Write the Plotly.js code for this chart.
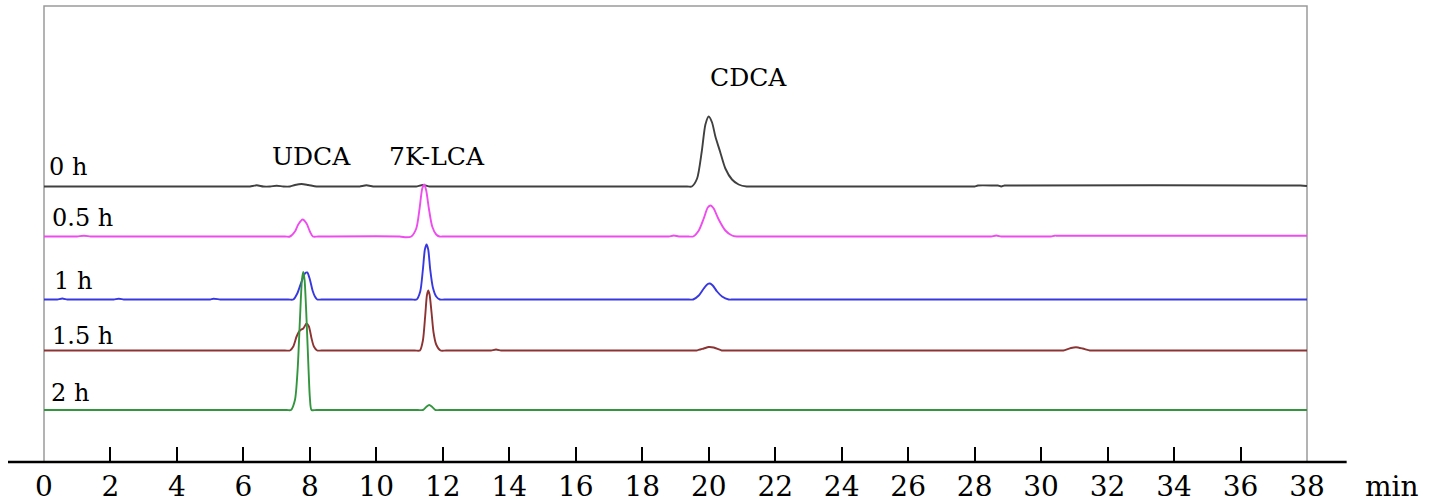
<!DOCTYPE html>
<html>
<head>
<meta charset="utf-8">
<script src="https://cdn.plot.ly/plotly-3.0.1.min.js"></script>
<style>html,body{margin:0;padding:0;background:#fff;}#chart{width:1429px;height:503px;}</style>
</head>
<body>
<div id="chart"></div>
<script>
// Sample labels
const sampleLabels = ["0 h", "0.5 h", "1 h", "1.5 h", "2 h"];
const peakNames = ["UDCA", "7K-LCA", "CDCA"];
const peakTimes = [8.05, 11.81, 21.19];
const xTicks = [0, 2, 4, 6, 8, 10, 12, 14, 16, 18, 20, 22, 24, 26, 28, 30, 32, 34, 36, 38];

// Retention time (min) and signal (relative units)
const t0h = [0, 0.2, 6.1, 6.2, 6.4, 6.6, 6.8, 7.0, 7.2, 7.4, 7.55, 7.75, 7.95, 8.2, 8.4, 9.4, 9.5, 9.7, 9.9, 10.0, 11.1, 11.2, 11.4, 11.6, 11.7, 19.35, 19.49, 19.65, 19.79, 19.9, 20.0, 20.1, 20.2, 20.34, 20.5, 20.7, 20.9, 21.14, 21.3, 27.9, 28.0, 28.1, 28.6, 28.7, 28.8, 28.9, 29.0, 37.8, 38];
const s0h = [0, 0, 0, 0, 1.2, 0, 0, 0.8, 0, 0, 1.5, 2.5, 1.5, 0, 0, 0, 0, 1.2, 0, 0, 0, 0, 1.5, 0, 0, 0, 0, 8, 35, 62, 70, 64, 50, 35, 18, 7, 2, 0, 0, 0, 0, 1, 1, 1, 0, 1, 1, 1, 0.5];

const t05h = [0, 0.2, 0.9, 1.0, 1.2, 1.4, 1.5, 7.25, 7.40, 7.55, 7.65, 7.78, 7.9, 8.0, 8.09, 8.25, 10.7, 10.9, 11.05, 11.2, 11.3, 11.38, 11.44, 11.5, 11.58, 11.68, 11.8, 11.9, 12.05, 18.7, 18.8, 18.95, 19.1, 19.3, 19.4, 19.53, 19.7, 19.85, 19.97, 20.06, 20.15, 20.3, 20.5, 20.7, 20.84, 21.0, 28.4, 28.5, 28.65, 28.8, 28.9, 30.2, 30.3, 30.4, 30.5, 37.8, 38];
const s05h = [0, 0, 0, 0, 0.8, 0, 0, 0, 0, 5, 12, 17, 13, 5, 0, 0, 0, -0.8, 0, 8, 28, 48, 52, 46, 28, 10, 2, 0, 0, 0, 0, 1, 0, 0, 0, 0, 6, 18, 29, 31, 28, 17, 6, 1, 0, 0, 0, 0, 1, 0, 0, 0, 0, 0.8, 0.8, 0.8, 0.8];

const t1h = [0, 0.2, 0.3, 0.4, 0.55, 0.7, 0.8, 2.0, 2.1, 2.25, 2.4, 2.5, 4.9, 5.0, 5.1, 5.3, 5.4, 7.35, 7.5, 7.62, 7.75, 7.85, 7.92, 8.0, 8.08, 8.15, 8.22, 8.35, 11.05, 11.21, 11.32, 11.4, 11.46, 11.51, 11.56, 11.62, 11.7, 11.8, 11.91, 12.05, 19.4, 19.53, 19.7, 19.85, 19.97, 20.04, 20.12, 20.25, 20.4, 20.6, 20.75, 37.8, 38];
const s1h = [0, 0, 0, 0, 1, 0, 0, 0, 0, 0.8, 0, 0, 0, 0, 0.8, 0, 0, 0, 0, 6, 18, 26, 27, 20, 9, 3, 0, 0, 0, 0, 8, 30, 50, 55, 50, 30, 12, 3, 0, 0, 0, 0, 4, 11, 15.5, 16, 14, 8, 3, 0, 0, 0, 0];

const t15h = [0, 0.2, 7.25, 7.4, 7.5, 7.6, 7.7, 7.8, 7.9, 7.97, 8.05, 8.12, 8.22, 8.35, 11.15, 11.31, 11.4, 11.47, 11.52, 11.56, 11.6, 11.66, 11.72, 11.8, 11.93, 12.1, 13.35, 13.45, 13.6, 13.75, 13.85, 19.5, 19.63, 19.85, 20.0, 20.15, 20.39, 20.5, 30.55, 30.67, 30.9, 31.05, 31.25, 31.47, 31.6, 37.8, 38];
const s15h = [0, 0, 0, 0, 4, 14, 20, 22, 27, 24, 12, 4, 0, 0, 0, 0, 10, 35, 55, 60, 56, 38, 18, 6, 0, 0, 0, 0, 1, 0, 0, 0, 0, 2, 3.5, 3, 0, 0, 0, 0, 2.5, 3.3, 2, 0, 0, 0, 0];

const t2h = [0, 0.2, 7.3, 7.43, 7.55, 7.63, 7.7, 7.76, 7.80, 7.84, 7.9, 7.96, 8.0, 8.05, 8.2, 11.25, 11.4, 11.5, 11.59, 11.68, 11.78, 11.9, 37.8, 38];
const s2h = [0, 0, 0, 0, 10, 40, 90, 130, 138, 130, 90, 40, 12, 0, 0, 0, 0, 3, 5, 3, 0, 0, 0, 0];

const times = [t0h, t05h, t1h, t15h, t2h];
const signals = [s0h, s05h, s1h, s15h, s2h];

// Presentation
const offsets = [275.5, 225.5, 162.5, 111.5, 52];
const colors = ["#404040", "#ee4cee", "#3838e0", "#8c3434", "#33963f"];
const labelPos = [[0.1, 294.6], [0.18, 243.7], [0.23, 181.5], [0.18, 126.5], [0.16, 69]];
const peakLabelY = [306, 306, 384.5];

const traces = times.map((t, i) => ({
  x: t,
  y: signals[i].map(v => v + offsets[i]),
  type: "scatter",
  mode: "lines",
  line: {color: colors[i], width: 1.9, shape: "spline", smoothing: 0.7},
  hoverinfo: "skip",
  showlegend: false
}));

const font = "DejaVu Serif";
const annotations = [];
sampleLabels.forEach((s, i) => annotations.push({
  x: labelPos[i][0], y: labelPos[i][1], xref: "x", yref: "y", text: s,
  showarrow: false, xanchor: "left", yanchor: "middle",
  font: {family: font, size: 24, color: "#000"}
}));
peakNames.forEach((s, i) => annotations.push({
  x: peakTimes[i], y: peakLabelY[i], xref: "x", yref: "y", text: s,
  showarrow: false, xanchor: "center", yanchor: "middle",
  font: {family: font, size: 25, color: "#000"}
}));
annotations.push({
  x: 1.067, y: -0.053, xref: "paper", yref: "paper", text: "min",
  showarrow: false, xanchor: "center", yanchor: "middle",
  font: {family: font, size: 28, color: "#000"}
});

const layout = {
  width: 1429, height: 503,
  margin: {l: 44, r: 122, t: 6, b: 41, pad: 0},
  paper_bgcolor: "#fff", plot_bgcolor: "#fff",
  xaxis: {
    range: [0, 38], tickvals: xTicks, ticktext: xTicks.map(String),
    ticks: "inside", ticklen: 15, tickwidth: 2, tickcolor: "#000",
    showline: false, showgrid: false, zeroline: false,
    tickfont: {family: font, size: 28, color: "#000"},
    ticklabelstandoff: 5
  },
  yaxis: {range: [0, 456], visible: false, showgrid: false, zeroline: false},
  shapes: [
    {type: "rect", xref: "paper", yref: "paper", x0: 0, x1: 1, y0: 0, y1: 1,
     line: {color: "#9a9a9a", width: 1.5}, layer: "below"},
    {type: "line", xref: "paper", yref: "paper", x0: -0.0285, x1: 1.0314, y0: 0, y1: 0,
     line: {color: "#000", width: 2.5}}
  ],
  annotations: annotations
};

Plotly.newPlot("chart", traces, layout, {staticPlot: true, displayModeBar: false});
</script>
</body>
</html>
